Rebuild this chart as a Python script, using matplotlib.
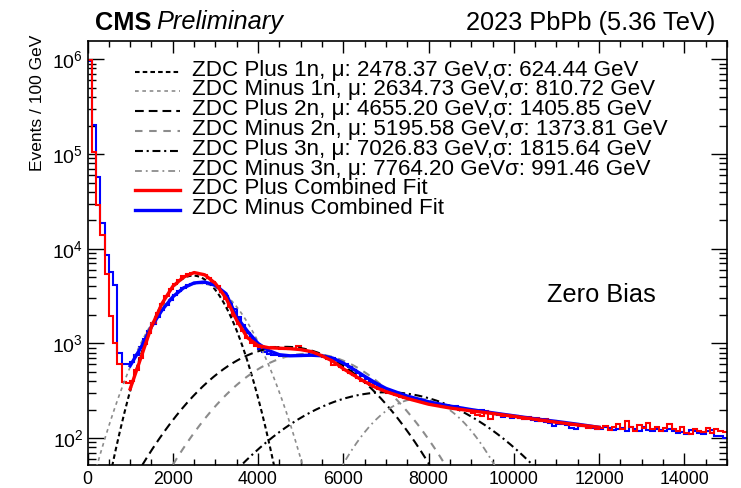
import numpy as np
import matplotlib
matplotlib.use('Agg')
import matplotlib.pyplot as plt
from matplotlib.lines import Line2D
from matplotlib.ticker import MultipleLocator, LogLocator, FuncFormatter, NullFormatter

plt.rcParams['font.family'] = ['Liberation Sans', 'DejaVu Sans']
plt.rcParams['mathtext.fontset'] = 'custom'
plt.rcParams['mathtext.rm'] = 'Liberation Sans'
plt.rcParams['mathtext.it'] = 'Liberation Sans:italic'

# ---------------- data ----------------
bin_width = 100  # GeV
plus_counts = [
    980000, 105000, 28700, 13800, 5400, 1950, 1000, 600, 390, 385,
    400, 520, 700, 980, 1300, 1650, 2100, 2600, 3200, 3750,
    4200, 4700, 5100, 5400, 5600, 5550, 5450, 5250, 4900, 4450,
    4000, 3450, 2950, 2450, 1950, 1600, 1350, 1150, 1000, 950,
    920, 900, 890, 910, 890, 880, 900, 870, 880, 930,
    860, 840, 810, 790, 760, 720, 680, 590, 600, 560,
    520, 490, 460, 430, 400, 380, 360, 345, 330, 315,
    300, 310, 285, 275, 268, 262, 255, 250, 240, 235,
    228, 222, 225, 215, 212, 210, 205, 200, 198, 195,
    185, 175, 170, 192, 160, 180, 178, 170, 176, 168,
    172, 165, 160, 168, 158, 162, 152, 158, 148, 150,
    145, 148, 140, 138, 142, 135, 138, 128, 132, 125,
    128, 135, 122, 130, 140, 126, 150, 132, 120, 138,
    128, 145, 125, 130, 118, 128, 140, 124, 120, 132,
    112, 110, 126, 118, 115, 128, 112, 125, 120, 115,
]
minus_counts = [
    960000, 204000, 56500, 18500, 8500, 5650, 4140, 800, 612, 600,
    640, 760, 920, 1100, 1350, 1600, 1900, 2250, 2550, 2900,
    3250, 3600, 3850, 4100, 4250, 4350, 4400, 4380, 4250, 4100,
    3850, 3500, 3150, 2750, 2300, 1900, 1550, 1300, 1100, 960,
    870, 810, 780, 760, 750, 740, 735, 740, 730, 745,
    755, 760, 770, 760, 750, 740, 720, 700, 670, 630,
    600, 560, 520, 485, 455, 425, 395, 370, 350, 335,
    320, 305, 295, 285, 275, 268, 260, 252, 248, 242,
    236, 230, 228, 222, 218, 214, 220, 208, 205, 200,
    196, 192, 200, 186, 182, 178, 175, 168, 172, 165,
    170, 162, 160, 165, 155, 152, 150, 148, 146, 135,
    142, 140, 138, 128, 126, 135, 133, 130, 128, 126,
    125, 130, 128, 122, 125, 128, 120, 130, 125, 120,
    130, 122, 118, 126, 122, 120, 125, 118, 112, 115,
    110, 122, 118, 112, 110, 118, 122, 106, 104, 100,
]

# combined fit curves
fit_x = [1000, 1250, 1500, 1750, 2000, 2250, 2500, 2750, 3000, 3250,
         3500, 3750, 4000, 4250, 4500, 4750, 5000, 5250, 5500, 5750,
         6000, 6250, 6500, 6750, 7000, 7500, 8000, 8500, 9000, 9500,
         10000, 10500, 11000, 11500, 12000]
plus_fit = [330, 700, 1500, 2650, 4000, 5000, 5600, 5300, 4300, 3000,
            1750, 1150, 950, 900, 890, 880, 860, 820, 740, 650,
            540, 460, 395, 345, 310, 262, 228, 208, 194, 182,
            170, 158, 147, 138, 130]
minus_fit = [580, 900, 1500, 2250, 3100, 3850, 4350, 4450, 4100, 3350,
             1900, 1350, 1000, 840, 760, 740, 745, 750, 740, 700,
             620, 530, 450, 385, 335, 278, 242, 218, 200, 185,
             172, 160, 150, 140, 130]

# single-neutron-peak components: label, mean, sigma (from legend), amplitude (read)
comp_labels = [
    "ZDC Plus 1n, \u03bc: 2478.37 GeV,\u03c3: 624.44 GeV",
    "ZDC Minus 1n, \u03bc: 2634.73 GeV,\u03c3: 810.72 GeV",
    "ZDC Plus 2n, \u03bc: 4655.20 GeV,\u03c3: 1405.85 GeV",
    "ZDC Minus 2n, \u03bc: 5195.58 GeV,\u03c3: 1373.81 GeV",
    "ZDC Plus 3n, \u03bc: 7026.83 GeV,\u03c3: 1815.64 GeV",
    "ZDC Minus 3n, \u03bc: 7764.20 GeV\u03c3: 991.46 GeV",
]
comp_mu = [2478.37, 2634.73, 4655.20, 5195.58, 7026.83, 7764.20]
comp_sigma = [624.44, 810.72, 1405.85, 1373.81, 1815.64, 991.46]
comp_amp = [5200, 4300, 920, 780, 305, 260]
fit_labels = ["ZDC Plus Combined Fit", "ZDC Minus Combined Fit"]

# ---------------- styling ----------------
BLACK = '#000000'
GRAY = '#8c8c8c'
RED = '#ff0000'
BLUE = '#0000ff'
comp_styles = [
    dict(color=BLACK, lw=1.5, ls=(0, (2.2, 1.5))),
    dict(color=GRAY, lw=1.2, ls=(0, (2.2, 2.2))),
    dict(color=BLACK, lw=1.5, ls=(0, (4.2, 2.4))),
    dict(color=GRAY, lw=1.5, ls=(0, (3.6, 3.2))),
    dict(color=BLACK, lw=1.5, ls=(0, (3.8, 1.8, 1.0, 1.8))),
    dict(color=GRAY, lw=1.3, ls=(0, (3.8, 2.2, 1.0, 2.2))),
]

W, H = 741, 488
fig = plt.figure(figsize=(W / 100, H / 100), dpi=100)


def fx(px):
    return px / W


def fy(py):
    return 1 - py / H


ax = fig.add_axes([fx(87.5), fy(465), (727 - 87.5) / W, (465 - 40.5) / H])

edges = np.arange(0, 15000 + bin_width, bin_width)
ax.stairs(minus_counts, edges, color=BLUE, lw=1.5, baseline=None, zorder=2)
ax.stairs(plus_counts, edges, color=RED, lw=1.5, baseline=None, zorder=2.1)

xs = np.linspace(0, 15000, 1501)
for mu, sg, A, st in zip(comp_mu, comp_sigma, comp_amp, comp_styles):
    ax.plot(xs, A * np.exp(-0.5 * ((xs - mu) / sg) ** 2), color=st['color'],
            lw=st['lw'], linestyle=st['ls'], zorder=3)

ax.plot(fit_x, minus_fit, color=BLUE, lw=2.4, zorder=4, solid_joinstyle='round')
ax.plot(fit_x, plus_fit, color=RED, lw=2.4, zorder=4.1, solid_joinstyle='round')

ax.set_yscale('log')
ax.set_xlim(0, 15000)
ax.set_ylim(52, 1.58e6)

ax.xaxis.set_major_locator(MultipleLocator(2000))
ax.xaxis.set_minor_locator(MultipleLocator(500))
ax.yaxis.set_major_locator(LogLocator(base=10, numticks=20))
ax.yaxis.set_minor_locator(LogLocator(base=10, subs=np.arange(2, 10), numticks=20))
ax.yaxis.set_minor_formatter(NullFormatter())
ax.yaxis.set_major_formatter(FuncFormatter(
    lambda v, p: r'$\mathregular{10^{%d}}$' % int(round(np.log10(v)))))

ax.tick_params(axis='both', which='both', direction='in', top=True, right=True,
               width=1.0, colors='black')
ax.tick_params(axis='x', which='major', length=8.8, pad=4, labelsize=12.8)
ax.tick_params(axis='x', which='minor', length=4.4)
ax.tick_params(axis='y', which='major', length=11.3, pad=3, labelsize=14)
ax.tick_params(axis='y', which='minor', length=5.6)
for s in ax.spines.values():
    s.set_linewidth(1.2)

ax.set_ylabel('Events / 100 GeV', fontsize=12.5, loc='top')
ax.yaxis.set_label_coords((45.5 - 87.5) / (727 - 87.5), 1 + 5.5 / (465 - 40.5))

# legend drawn row by row
leg_labels = comp_labels + fit_labels
leg_styles = comp_styles + [dict(color=RED, lw=2.4, ls='-'), dict(color=BLUE, lw=2.4, ls='-')]
for i, (lab, st) in enumerate(zip(leg_labels, leg_styles)):
    base = 75.6 + 19.8 * i
    hy = base - 4.0
    fig.add_artist(Line2D([fx(135), fx(180)], [fy(hy), fy(hy)], transform=fig.transFigure,
                          color=st['color'], lw=st['lw'], linestyle=st['ls']))
    fig.text(fx(191.5), fy(base), lab, fontsize=16.1, ha='left', va='baseline')

# header texts
t_cms = fig.text(fx(94.5), fy(29.5), 'CMS', fontsize=18.3, fontweight='bold',
                 ha='left', va='baseline')
fig.canvas.draw()
bb = t_cms.get_window_extent(fig.canvas.get_renderer())
fig.text(bb.x1 / W + fx(5.5), fy(29.5), 'Preliminary', fontsize=18.3, style='italic',
         ha='left', va='baseline')
fig.text(fx(715.5), fy(30.0), '2023 PbPb (5.36 TeV)', fontsize=18.3, ha='right', va='baseline')
fig.text(fx(547), fy(302), 'Zero Bias', fontsize=18.3, ha='left', va='baseline')

fig.savefig('out.png', dpi=100)
